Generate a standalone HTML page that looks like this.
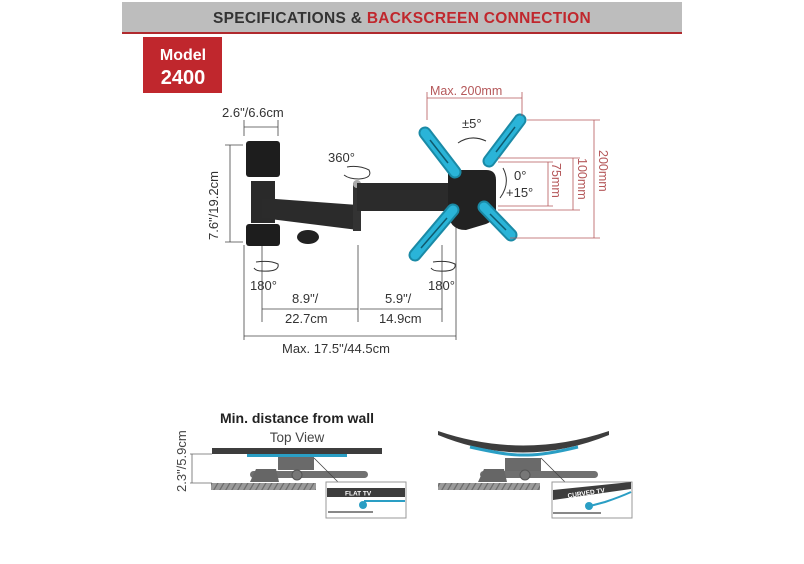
<!DOCTYPE html>
<html><head><meta charset="utf-8"><style>
html,body{margin:0;padding:0;background:#fff;}
svg{display:block;}
text{font-family:"Liberation Sans",sans-serif;}
</style></head><body>
<svg width="804" height="564" viewBox="0 0 804 564" xmlns="http://www.w3.org/2000/svg">
<defs>
<pattern id="h" width="6" height="8" patternUnits="userSpaceOnUse" patternTransform="skewX(-30)">
<rect width="6" height="8" fill="#9a9a9a"/><rect x="4" width="1.5" height="8" fill="#6e6e6e"/>
</pattern>
</defs>
<!-- header -->
<rect x="122" y="2" width="560" height="31" fill="#bdbdbd"/>
<rect x="122" y="32" width="560" height="2" fill="#b02a2e"/>
<text x="402" y="23" text-anchor="middle" font-size="15.5" font-weight="bold" fill="#333" letter-spacing="0.3">SPECIFICATIONS &amp; <tspan fill="#c0272d">BACKSCREEN CONNECTION</tspan></text>
<rect x="143" y="37" width="79" height="56" fill="#c0272d"/>
<text x="183" y="60" text-anchor="middle" font-size="16" font-weight="bold" fill="#fff">Model</text>
<text x="183" y="84" text-anchor="middle" font-size="20" font-weight="bold" fill="#fff">2400</text>

<!-- black dims -->
<g stroke="#444" stroke-width="0.8" fill="none">
<line x1="244" y1="120" x2="244" y2="136"/><line x1="278" y1="120" x2="278" y2="136"/><line x1="244" y1="127" x2="278" y2="127"/>
<line x1="225" y1="145" x2="243" y2="145"/><line x1="225" y1="242" x2="243" y2="242"/><line x1="230" y1="145" x2="230" y2="242"/>
<line x1="244" y1="245" x2="244" y2="340"/><line x1="262" y1="245" x2="262" y2="322"/><line x1="358" y1="245" x2="358" y2="322"/><line x1="442" y1="245" x2="442" y2="322"/><line x1="456" y1="220" x2="456" y2="340"/>
<line x1="262" y1="309" x2="358" y2="309"/><line x1="360" y1="309" x2="442" y2="309"/><line x1="244" y1="336" x2="456" y2="336"/>
</g>
<g font-size="13" fill="#333">
<text x="222" y="117">2.6"/6.6cm</text>
<text transform="translate(218,240) rotate(-90)">7.6"/19.2cm</text>
<text x="328" y="162">360°</text>
<text x="250" y="290">180°</text>
<text x="428" y="290">180°</text>
<text x="292" y="303">8.9"/</text>
<text x="285" y="323">22.7cm</text>
<text x="385" y="303">5.9"/</text>
<text x="379" y="323">14.9cm</text>
<text x="282" y="353">Max. 17.5"/44.5cm</text>
<text x="462" y="128">±5°</text>
<text x="514" y="180">0°</text>
<text x="506" y="197">+15°</text>
</g>
<!-- rotation arrows -->
<g stroke="#333" stroke-width="1" fill="none">
<path d="M347 167 q12 -2 22 3 q4 8 -10 9 q-10 0 -15 -4"/>
<path d="M256 262 q14 -2 22 2 q2 8 -16 7 q-6 0 -8 -3"/>
<path d="M433 262 q14 -2 22 2 q2 8 -16 7 q-6 0 -8 -3"/>
<path d="M458 143 q13 -9 28 -2"/>
<path d="M503 168 q8 15 -3 30"/>
</g>
<!-- wall plate & arm -->
<rect x="246" y="141" width="34" height="36" rx="3" fill="#1d1d1d"/>
<rect x="251" y="181" width="24" height="42" fill="#2a2a2a"/>
<rect x="246" y="224" width="34" height="22" rx="3" fill="#1d1d1d"/>
<ellipse cx="308" cy="237" rx="11" ry="7" fill="#222"/>
<polygon points="262,198 358,205 358,230 262,218" fill="#2b2b2b"/>
<rect x="353" y="183" width="8" height="48" fill="#333"/>
<circle cx="357" cy="184" r="4" fill="#aaa"/>
<rect x="357" y="183" width="92" height="28" fill="#2b2b2b"/>
<path d="M448 170 h38 q10 0 10 10 v30 q0 10 -10 14 l-20 6 q-18 0 -18 -20z" fill="#222"/>
<!-- blue arms -->
<g stroke="#1a8aa6" stroke-width="13" stroke-linecap="round">
<line x1="425" y1="133" x2="455" y2="172"/><line x1="520" y1="120" x2="489" y2="161"/>
<line x1="453" y1="210" x2="415" y2="255"/><line x1="484" y1="207" x2="511" y2="235"/>
</g>
<g stroke="#2ab4d8" stroke-width="9" stroke-linecap="round">
<line x1="425" y1="133" x2="455" y2="172"/><line x1="520" y1="120" x2="489" y2="161"/>
<line x1="453" y1="210" x2="415" y2="255"/><line x1="484" y1="207" x2="511" y2="235"/>
</g>
<g stroke="#0f5a6e" stroke-width="1.5">
<line x1="430" y1="140" x2="448" y2="163"/><line x1="515" y1="127" x2="496" y2="152"/>
<line x1="447" y1="218" x2="421" y2="248"/><line x1="490" y1="214" x2="506" y2="230"/>
</g>
<!-- red dims -->
<g stroke="#b5585a" stroke-width="0.8" fill="none">
<line x1="427" y1="92" x2="427" y2="120"/><line x1="522" y1="92" x2="522" y2="116"/><line x1="427" y1="98" x2="522" y2="98"/>
<line x1="527" y1="120" x2="600" y2="120"/><line x1="510" y1="238" x2="600" y2="238"/><line x1="594" y1="120" x2="594" y2="238"/>
<line x1="498" y1="158" x2="580" y2="158"/><line x1="498" y1="210" x2="580" y2="210"/><line x1="573" y1="158" x2="573" y2="210"/>
<line x1="498" y1="162" x2="553" y2="162"/><line x1="498" y1="206" x2="553" y2="206"/><line x1="548" y1="162" x2="548" y2="206"/>
</g>
<g font-size="12.5" fill="#b5585a">
<text x="430" y="95">Max. 200mm</text>
<text transform="translate(599,150) rotate(90)">200mm</text>
<text transform="translate(578,158) rotate(90)">100mm</text>
<text transform="translate(552,163) rotate(90)">75mm</text>
</g>

<!-- bottom left -->
<text x="297" y="423" text-anchor="middle" font-size="14" font-weight="bold" fill="#222">Min. distance from wall</text>
<text x="297" y="442" text-anchor="middle" font-size="13.5" fill="#444">Top View</text>
<g stroke="#666" stroke-width="0.8"><line x1="190" y1="454" x2="212" y2="454"/><line x1="190" y1="483" x2="212" y2="483"/><line x1="192" y1="454" x2="192" y2="483"/></g>
<text transform="translate(186,492) rotate(-90)" font-size="13" fill="#444">2.3"/5.9cm</text>
<rect x="212" y="448" width="170" height="6" fill="#3d3d3d"/>
<rect x="247" y="454" width="100" height="3" fill="#2a9ec4"/>
<rect x="278" y="457" width="36" height="13" fill="#6a6a6a"/>
<rect x="250" y="471" width="118" height="7" rx="3.5" fill="#707070"/>
<polygon points="256,469 276,469 279,482 250,482" fill="#666"/>
<circle cx="297" cy="475" r="5" fill="#777" stroke="#555"/>
<rect x="211" y="483" width="105" height="7" fill="url(#h)"/>
<line x1="314" y1="458" x2="338" y2="482" stroke="#444" stroke-width="0.8"/>
<rect x="326" y="482" width="80" height="36" fill="#fff" stroke="#999"/>
<rect x="327" y="488" width="78" height="9" fill="#3d3d3d"/>
<text x="345" y="495.5" font-size="6.5" font-weight="bold" fill="#fff">FLAT TV</text>
<line x1="364" y1="501" x2="405" y2="501" stroke="#2a9ec4" stroke-width="2"/>
<circle cx="363" cy="505" r="4" fill="#2a9ec4"/>
<line x1="328" y1="512" x2="373" y2="512" stroke="#888" stroke-width="2"/>

<!-- bottom right -->
<path d="M438 431 Q523 460 609 431 L609 435 Q523 470 438 435Z" fill="#3d3d3d"/>
<path d="M470 447 Q505 455 520 455 L528 455 Q545 455 578 447" stroke="#2a9ec4" stroke-width="3" fill="none"/>
<rect x="505" y="458" width="36" height="13" fill="#6a6a6a"/>
<rect x="480" y="471" width="118" height="7" rx="3.5" fill="#707070"/>
<polygon points="484,469 504,469 507,482 478,482" fill="#666"/>
<circle cx="525" cy="475" r="5" fill="#777" stroke="#555"/>
<rect x="438" y="483" width="102" height="7" fill="url(#h)"/>
<line x1="541" y1="458" x2="565" y2="482" stroke="#444" stroke-width="0.8"/>
<rect x="552" y="482" width="80" height="36" fill="#fff" stroke="#999"/>
<polygon points="553,490 631,482 631,489 553,500" fill="#3d3d3d"/>
<text transform="translate(568,498) rotate(-9)" font-size="6.5" font-weight="bold" fill="#fff">CURVED TV</text>
<path d="M590 506 L605 502 Q620 497 631 492" stroke="#2a9ec4" stroke-width="2" fill="none"/>
<circle cx="589" cy="506" r="4" fill="#2a9ec4"/>
<line x1="553" y1="513" x2="601" y2="513" stroke="#888" stroke-width="2"/>
</svg>
</body></html>
